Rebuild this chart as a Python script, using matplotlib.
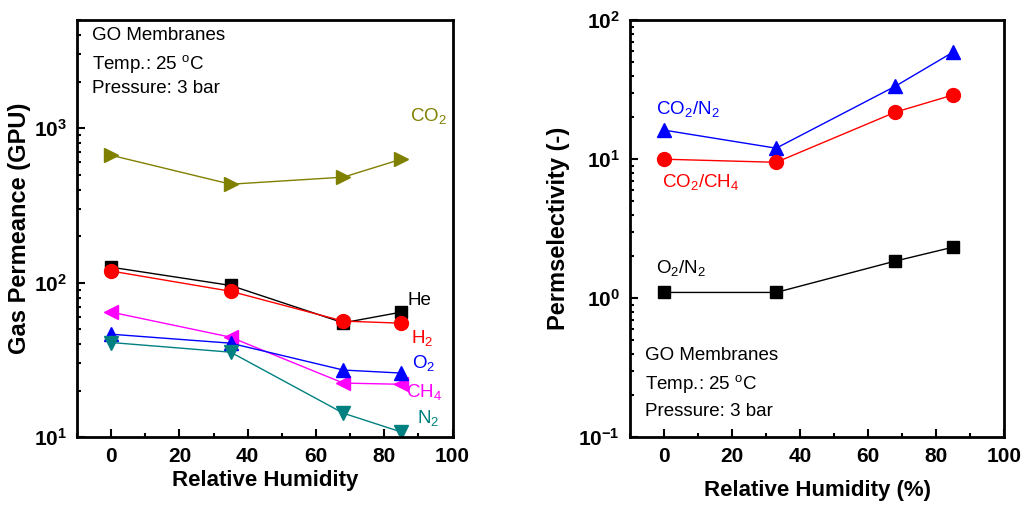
import matplotlib
matplotlib.use("Agg")
import matplotlib.pyplot as plt
from matplotlib.ticker import FixedLocator, LogLocator, NullFormatter, MultipleLocator

plt.rcParams['font.family'] = ['Liberation Sans', 'DejaVu Sans']
plt.rcParams['mathtext.fontset'] = 'custom'
plt.rcParams['mathtext.rm'] = 'Liberation Sans'
plt.rcParams['mathtext.it'] = 'Liberation Sans'
plt.rcParams['mathtext.bf'] = 'Liberation Sans:bold'

# left panel: gas permeance
rh_perm = [0, 35, 68, 85]
co2 = [668, 434, 482, 630]
he = [126, 96, 55, 64.5]
h2 = [119, 88, 56.4, 54.7]
ch4 = [64.5, 44.4, 22.4, 22]
o2 = [46.4, 40.6, 27.2, 26]
n2 = [41, 35.5, 14.3, 10.8]

# right panel: permselectivity
rh_sel = [0, 33, 68, 85]
co2_n2 = [16.2, 12, 33.5, 59]
co2_ch4 = [10, 9.5, 21.8, 29]
o2_n2 = [1.1, 1.1, 1.85, 2.33]

xticks = [0, 20, 40, 60, 80, 100]

fig = plt.figure(figsize=(10.29, 5.18), dpi=100)
ax1 = fig.add_axes([0.0748, 0.156, 0.365, 0.805])
ax2 = fig.add_axes([0.612, 0.156, 0.364, 0.805])

ms = 10
ax1.plot(rh_perm, co2, color='#808000', marker='>', ms=ms, lw=1)
ax1.plot(rh_perm, he, color='black', marker='s', ms=ms - 1, lw=1)
ax1.plot(rh_perm, h2, color='red', marker='o', ms=ms, lw=1)
ax1.plot(rh_perm, ch4, color='magenta', marker='<', ms=ms, lw=1)
ax1.plot(rh_perm, o2, color='blue', marker='^', ms=ms, lw=1)
ax1.plot(rh_perm, n2, color='#008080', marker='v', ms=ms, lw=1)

ax2.plot(rh_sel, co2_n2, color='blue', marker='^', ms=ms, lw=1)
ax2.plot(rh_sel, co2_ch4, color='red', marker='o', ms=ms, lw=1)
ax2.plot(rh_sel, o2_n2, color='black', marker='s', ms=ms - 1, lw=1)

for ax, ylim, ydec in [(ax1, (10, 5000), [1, 2, 3]), (ax2, (0.1, 100), [-1, 0, 1, 2])]:
    ax.set_yscale('log')
    ax.set_xlim(-10, 100)
    ax.set_ylim(*ylim)
    ax.set_xticks(xticks)
    ax.set_xticklabels([str(t) for t in xticks], fontweight='bold', fontsize=15)
    ax.xaxis.set_minor_locator(MultipleLocator(10))
    ax.yaxis.set_major_locator(FixedLocator([10.0 ** d for d in ydec]))
    ax.set_yticklabels([r'$\mathbf{10^{%d}}$' % d for d in ydec], fontsize=15)
    ax.yaxis.set_minor_locator(LogLocator(base=10, subs=range(2, 10)))
    ax.yaxis.set_minor_formatter(NullFormatter())
    ax.tick_params(which='both', direction='in', top=False, right=False, width=1.5)
    ax.tick_params(which='major', length=6, pad=7)
    ax.tick_params(which='minor', length=3)
    for s in ax.spines.values():
        s.set_linewidth(2)

ax1.set_xlabel('Relative Humidity', fontsize=16, fontweight='bold', labelpad=3)
ax1.set_ylabel('Gas Permeance (GPU)', fontsize=17, fontweight='bold', labelpad=2)
ax2.set_xlabel('Relative Humidity (%)', fontsize=16, fontweight='bold', labelpad=10)
ax2.set_ylabel('Permselectivity (-)', fontsize=17, fontweight='bold', labelpad=6)

fs = 13.5
for ax, ys in [(ax1, [0.964, 0.895, 0.837]), (ax2, [0.197, 0.127, 0.062])]:
    ax.text(0.04, ys[0], 'GO Membranes', transform=ax.transAxes, fontsize=fs, va='center')
    ax.text(0.04, ys[1], r'Temp.: 25 $^{\mathrm{o}}$C', transform=ax.transAxes, fontsize=fs, va='center')
    ax.text(0.04, ys[2], 'Pressure: 3 bar', transform=ax.transAxes, fontsize=fs, va='center')

ax1.text(87.4, 1200, r'CO$_2$', color='#808000', fontsize=fs, va='center')
ax1.text(86.8, 77, 'He', color='black', fontsize=fs, va='center')
ax1.text(87.7, 44, r'H$_2$', color='red', fontsize=fs, va='center')
ax1.text(88, 30, r'O$_2$', color='blue', fontsize=fs, va='center')
ax1.text(86.5, 19.5, r'CH$_4$', color='magenta', fontsize=fs, va='center')
ax1.text(89.5, 13.3, r'N$_2$', color='#008080', fontsize=fs, va='center')

ax2.text(-2.4, 23, r'CO$_2$/N$_2$', color='blue', fontsize=fs, va='center')
ax2.text(-0.6, 6.8, r'CO$_2$/CH$_4$', color='red', fontsize=fs, va='center')
ax2.text(-2.4, 1.64, r'O$_2$/N$_2$', color='black', fontsize=fs, va='center')

plt.savefig('out.png', dpi=100)
